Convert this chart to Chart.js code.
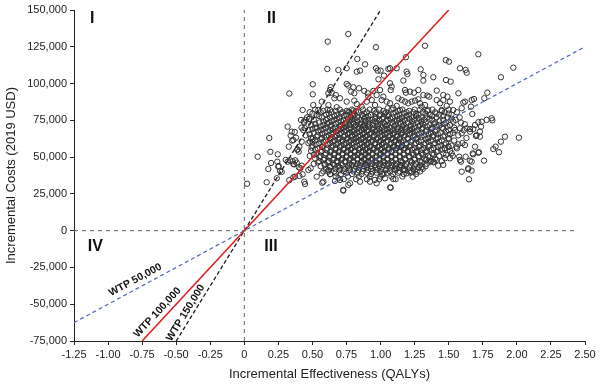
<!DOCTYPE html>
<html>
<head>
<meta charset="utf-8">
<script src="https://cdn.jsdelivr.net/npm/chart.js@4.4.1/dist/chart.umd.min.js"></script>
<style>
html,body{margin:0;padding:0;background:#fff;}
#wrap{width:600px;height:386px;position:relative;}
</style>
</head>
<body>
<div id="wrap"><canvas id="c" width="600" height="386"></canvas></div>
<script>
// ---- Data ----
const xTicks = [-1.25,-1.0,-0.75,-0.5,-0.25,0,0.25,0.5,0.75,1.0,1.25,1.5,1.75,2.0,2.25,2.5];
const yTicks = [-75000,-50000,-25000,0,25000,50000,75000,100000,125000,150000];
const wtpValues = [50000, 100000, 150000];
const wtpLabels = ['WTP 50,000', 'WTP 100,000', 'WTP 150,000'];
const wtpLineStart = [-1.25, -0.75, -0.5];
const wtpLineEnd = [2.5, 1.5, 1.0];
const quadrantLabels = ['I', 'II', 'III', 'IV'];

// Individually read simulation points [QALY, cost in thousands USD]
const sparsePoints = [
[0.02,31.9],[0.098,50.3],[0.183,63.0],[0.191,53.6],[0.164,32.9],[0.176,41.9],[0.196,46.0],[0.245,51.9],[0.242,46.9],[0.252,44.0],[0.274,39.9],[0.238,35.6],[0.33,93.2],[0.318,70.7],[0.34,64.6],[0.37,67.1],[0.326,57.1],[0.35,61.2],[0.379,63.2],[0.335,47.8],[0.355,47.2],[0.374,47.8],[0.36,45.3],[0.33,34.3],[0.372,36.7],[0.40,43.1],[0.39,54.9],
[0.262,40.6],[0.348,67.3],[0.36,61.6],[0.389,55.3],[0.399,53.7],[0.416,75.2],[0.436,74.1],[0.45,75.4],[0.475,75.9],[0.433,68.4],[0.445,69.6],[0.421,60.5],[0.404,57.1],[0.482,60.5],[0.502,62.3],[0.494,56.4],[0.304,48.1],[0.318,46.9],[0.365,45.1],[0.384,46.2],[0.411,42.4],[0.421,44.2],[0.36,36.3],[0.404,37.2],[0.428,38.3],[0.44,33.3],[0.445,31.7],[0.47,41.3],[0.487,42.4],[0.519,70.0],[0.249,43.5],
[0.502,99.5],[0.502,92.7],[0.506,85.4],[0.428,82.0],
[0.763,133.7],[0.612,128.5],[0.966,124.7],[0.829,116.7],[0.886,113.1],[0.609,109.9],[0.690,109.2],[0.751,110.4],[0.825,108.1],[0.849,108.8],[0.966,110.4],[0.979,108.8],[1.0,108.8],[1.057,109.9],[1.025,105.4],[0.984,102.9],[0.751,99.7],[0.763,98.6],[0.629,95.6],[0.641,93.8],[0.617,93.4],[0.671,92.2],[0.661,90.0],[0.702,90.0],[0.783,94.5],[0.807,93.4],[0.842,96.8],[0.880,95.0],[0.905,93.4],[0.91,91.1],[0.947,95.0],[0.971,92.2],[0.996,95.6],[1.02,91.1],[0.568,87.7],[0.617,85.4],[0.629,82.0],[0.678,83.9],[0.751,87.7],[0.807,88.4],[0.825,86.1],[0.861,84.3],[0.898,87.7],[0.935,88.8],[0.959,85.4],[1.008,88.8],[1.045,87.7],[1.052,83.2],[0.543,82.0],[0.763,80.9],[0.80,81.6],[0.634,97.5],[0.80,97.5],
[1.326,125.7],[1.186,117.9],[1.478,116.0],[1.502,114.9],[1.583,110.4],[1.069,110.4],[1.118,110.4],[1.191,108.1],[1.197,106.5],[1.294,109.7],[1.314,105.8],[1.167,102.0],[1.314,102.0],[1.387,104.3],[1.48,102.4],[1.514,101.3],[1.069,100.2],[1.081,97.9],[1.074,95.6],[1.179,95.6],[1.186,93.8],[1.216,94.5],[1.245,93.8],[1.277,95.6],[1.314,92.2],[1.343,91.8],[1.357,91.1],[1.412,95.2],[1.46,92.2],[1.49,91.1],[1.571,93.4],[1.13,90.0],[1.155,88.8],[1.179,87.7],[1.203,86.6],[1.228,87.7],[1.252,88.4],[1.277,89.3],[1.289,86.6],[1.302,84.3],[1.326,85.4],[1.35,82.0],[1.412,88.8],[1.436,86.6],[1.46,88.8],[1.485,84.8],[1.509,87.7],[1.448,82.0],[1.533,82.0],[1.069,86.6],[1.093,83.2],[1.118,84.8],[1.142,82.0],[1.595,83.2],[1.607,87.0],
[1.717,119.9],[1.974,110.8],[1.883,104.3],[1.624,109.2],[1.632,107.4],[1.783,93.8],[1.761,90.0],[1.668,88.8],[1.685,89.5],[1.619,87.7],[1.663,84.3],[1.673,79.3],
[1.815,76.4],[1.82,75.0],[1.778,75.3],[1.742,74.1],[1.717,73.7],[1.737,70.7],[1.693,71.8],[1.68,69.1],[1.656,69.1],[1.632,69.6],[1.619,72.3],[1.729,67.3],[1.70,64.4],[1.913,63.9],[1.883,60.5],[1.844,57.1],[1.827,55.5],[1.869,53.3],[2.015,63.2],[1.619,58.2],[1.722,53.3],[1.68,51.9],[1.759,47.6],[1.656,47.6],[1.668,46.9],[1.643,42.4],[1.649,34.9],
[1.656,67.3],[1.705,65.0],[1.729,63.9],[1.693,57.1],[1.676,52.6],[1.717,53.0],[1.624,50.3],[1.583,48.1],[1.643,41.7],[1.668,40.8],
[1.583,69.6],[1.595,66.2],[1.546,68.4],[1.533,74.1],[1.558,57.1],[1.571,58.7],[1.577,50.3],[1.59,46.9],[1.522,52.6],[1.509,49.2],[1.473,49.2],[1.46,44.7],[1.423,44.2],[1.473,56.0],[1.497,57.1],[1.595,40.1],[1.093,35.1],[1.074,29.2],[1.302,43.1],[1.265,40.1],[1.228,40.1],[1.236,36.7],[1.191,39.0],[1.167,41.3],[1.118,42.4],[1.142,44.7],[1.387,46.9],[1.362,46.9],[1.338,48.1],
[0.726,27.7],[0.776,32.2],[0.763,31.1],[0.849,33.3],[0.922,33.3],[0.971,32.2],[0.959,34.5],[1.032,35.6],[1.02,38.3],[0.69,35.6],[0.702,34.5],[0.665,33.8],[0.531,36.7],[0.568,39.0],[0.616,40.1],[0.629,38.3],[0.58,33.3],[0.572,32.6],[1.071,29.5],[0.726,27.2]
];

// Dense core, read row by row: [cost in thousands, QALY values...]
const coreRows = [
[82.3, 0.52,0.61,0.70,0.79,0.87,0.92,0.99,1.08,1.16,1.25,1.29,1.38,1.50],
[81.4, 0.58,0.67,0.75,0.82,0.95,1.02,1.13,1.21,1.34,1.45],
[80.5, 0.48,0.56,0.64,0.72,0.77,0.84,0.90,0.97,1.04,1.11,1.19,1.24,1.31,1.40,1.47,1.56],
[79.6, 0.50,0.62,0.71,0.79,0.88,0.96,1.03,1.09,1.17,1.26,1.33,1.41,1.50],
[78.8, 0.53,0.60,0.68,0.75,0.81,0.86,0.93,1.00,1.06,1.14,1.21,1.28,1.36,1.43,1.52],
[77.9, 0.55,0.66,0.73,0.80,0.87,0.91,0.99,1.05,1.12,1.19,1.26,1.38,1.46],
[77.0, 0.46,0.57,0.63,0.70,0.78,0.83,0.89,0.96,1.02,1.09,1.16,1.23,1.30,1.34,1.41,1.49,1.58],
[76.1, 0.48,0.61,0.68,0.76,0.81,0.88,0.96,1.01,1.07,1.14,1.21,1.28,1.36,1.52],
[75.3, 0.51,0.60,0.66,0.73,0.79,0.85,0.91,0.94,0.99,1.05,1.12,1.18,1.25,1.32,1.38,1.46,1.55],
[74.4, 0.58,0.64,0.71,0.77,0.83,0.89,0.96,1.04,1.10,1.16,1.23,1.30,1.43],
[73.5, 0.44,0.55,0.62,0.69,0.75,0.80,0.86,0.92,0.97,1.02,1.08,1.14,1.20,1.27,1.33,1.40,1.48,1.59],
[72.6, 0.52,0.61,0.67,0.74,0.80,0.85,0.91,0.98,1.03,1.09,1.15,1.24,1.31,1.39,1.47],
[71.8, 0.49,0.58,0.64,0.71,0.77,0.82,0.88,0.94,1.00,1.05,1.11,1.17,1.22,1.29,1.36,1.43,1.51],
[70.9, 0.56,0.63,0.70,0.75,0.81,0.87,0.92,0.98,1.04,1.10,1.16,1.22,1.28,1.34,1.41,1.49],
[70.0, 0.42,0.53,0.60,0.67,0.73,0.78,0.84,0.89,0.95,1.01,1.07,1.13,1.19,1.25,1.31,1.38,1.45,1.54],
[69.1, 0.50,0.58,0.65,0.71,0.77,0.83,0.88,0.94,0.99,1.05,1.12,1.18,1.23,1.30,1.37,1.46],
[68.3, 0.47,0.56,0.63,0.69,0.75,0.81,0.86,0.91,0.97,1.03,1.09,1.15,1.21,1.27,1.34,1.41,1.50,1.61],
[67.4, 0.54,0.61,0.67,0.73,0.79,0.84,0.90,0.96,1.01,1.07,1.13,1.19,1.25,1.33,1.40,1.48],
[66.5, 0.51,0.59,0.65,0.71,0.77,0.83,0.88,0.93,0.99,1.05,1.10,1.16,1.23,1.30,1.37,1.44,1.53],
[65.6, 0.48,0.57,0.64,0.70,0.76,0.81,0.87,0.92,0.97,1.03,1.09,1.15,1.21,1.28,1.35,1.42,1.51],
[64.8, 0.45,0.54,0.62,0.68,0.74,0.79,0.85,0.90,0.95,1.01,1.07,1.12,1.18,1.25,1.32,1.39,1.47,1.57],
[63.9, 0.53,0.60,0.66,0.73,0.79,0.84,0.89,0.95,1.00,1.06,1.12,1.17,1.24,1.30,1.38,1.46],
[63.0, 0.49,0.57,0.64,0.70,0.76,0.82,0.87,0.92,0.98,1.03,1.09,1.14,1.20,1.27,1.35,1.42,1.50,1.63],
[62.1, 0.56,0.63,0.69,0.75,0.80,0.86,0.91,0.97,1.02,1.08,1.14,1.20,1.26,1.33,1.41,1.50],
[61.3, 0.52,0.60,0.66,0.72,0.78,0.84,0.89,0.94,1.00,1.05,1.11,1.17,1.23,1.30,1.37,1.45,1.54],
[60.4, 0.50,0.58,0.65,0.71,0.77,0.82,0.88,0.93,0.99,1.04,1.10,1.15,1.22,1.28,1.35,1.43],
[59.5, 0.47,0.55,0.63,0.69,0.75,0.80,0.86,0.91,0.96,1.02,1.08,1.13,1.19,1.26,1.33,1.40,1.48,1.60],
[58.6, 0.53,0.61,0.67,0.73,0.79,0.85,0.90,0.96,1.01,1.07,1.13,1.19,1.25,1.32,1.39,1.47],
[57.8, 0.50,0.58,0.65,0.71,0.77,0.83,0.88,0.93,0.99,1.04,1.10,1.16,1.22,1.29,1.36,1.44,1.52],
[56.9, 0.57,0.64,0.70,0.76,0.81,0.87,0.92,0.98,1.03,1.09,1.15,1.21,1.28,1.35,1.42,1.50],
[56.0, 0.54,0.61,0.67,0.73,0.79,0.85,0.90,0.95,1.01,1.06,1.12,1.18,1.25,1.32,1.39,1.47,1.56],
[55.1, 0.52,0.60,0.67,0.73,0.78,0.84,0.89,0.95,1.00,1.06,1.11,1.17,1.23,1.30,1.37,1.45],
[54.3, 0.49,0.57,0.64,0.70,0.76,0.81,0.87,0.92,0.97,1.03,1.08,1.14,1.20,1.27,1.34,1.42,1.51],
[53.4, 0.56,0.63,0.69,0.75,0.81,0.86,0.91,0.97,1.02,1.08,1.14,1.20,1.26,1.33,1.41],
[52.5, 0.53,0.60,0.66,0.72,0.78,0.84,0.89,0.94,1.00,1.05,1.11,1.17,1.23,1.30,1.38,1.46],
[51.6, 0.51,0.59,0.66,0.72,0.78,0.83,0.89,0.94,1.00,1.05,1.11,1.17,1.24,1.31,1.39,1.48],
[50.8, 0.48,0.56,0.63,0.69,0.75,0.81,0.86,0.91,0.97,1.02,1.08,1.14,1.21,1.28,1.35,1.43,1.53],
[49.9, 0.55,0.62,0.69,0.75,0.80,0.86,0.91,0.96,1.02,1.08,1.14,1.21,1.28,1.36],
[49.0, 0.52,0.59,0.66,0.72,0.78,0.83,0.88,0.94,0.99,1.05,1.11,1.18,1.25,1.32,1.40],
[48.1, 0.58,0.65,0.71,0.77,0.83,0.88,0.93,0.99,1.05,1.11,1.18,1.25,1.33,1.41],
[47.3, 0.55,0.62,0.68,0.74,0.80,0.86,0.91,0.96,1.02,1.08,1.15,1.22,1.29,1.37,1.45],
[46.4, 0.54,0.61,0.68,0.74,0.80,0.86,0.91,0.97,1.03,1.09,1.16,1.23,1.30,1.39],
[45.5, 0.51,0.59,0.65,0.71,0.77,0.83,0.89,0.94,1.00,1.06,1.12,1.19,1.26,1.34],
[44.6, 0.59,0.66,0.72,0.79,0.85,0.90,0.96,1.02,1.08,1.15,1.22,1.29],
[43.8, 0.56,0.63,0.69,0.76,0.82,0.88,0.93,0.99,1.05,1.11,1.18,1.25,1.33],
[42.9, 0.63,0.70,0.77,0.84,0.90,0.96,1.01,1.07,1.14,1.21,1.28],
[42.0, 0.60,0.67,0.74,0.81,0.87,0.93,0.98,1.04,1.10,1.17,1.24,1.31],
[41.1, 0.62,0.70,0.77,0.84,0.91,0.97,1.04,1.11,1.18,1.25],
[40.3, 0.58,0.66,0.73,0.80,0.87,0.94,1.00,1.07,1.14,1.21,1.29],
[39.4, 0.67,0.75,0.83,0.90,0.97,1.05,1.13,1.22],
[38.5, 0.63,0.71,0.79,0.86,0.93,1.01,1.09,1.17,1.26],
[36.8, 0.67,0.76,0.84,0.92,1.00,1.08,1.16],
[35.0, 0.73,0.82,0.90,0.99,1.11]
];

// ---- Build datasets ----
const simPoints = [];
sparsePoints.forEach(p => simPoints.push({x: p[0], y: p[1] * 1000}));
coreRows.forEach(r => { for (let i = 1; i < r.length; i++) simPoints.push({x: r[i], y: r[0] * 1000}); });

const lineStyles = [
  {color: '#4a67b0', dash: [4, 3], width: 1.2},
  {color: '#e32222', dash: [], width: 1.6},
  {color: '#1a1a1a', dash: [4, 2.5], width: 1.3}
];

const datasets = [];
wtpValues.forEach((w, i) => {
  datasets.push({
    type: 'line',
    label: wtpLabels[i],
    data: [{x: wtpLineStart[i], y: w * wtpLineStart[i]}, {x: wtpLineEnd[i], y: w * wtpLineEnd[i]}],
    borderColor: lineStyles[i].color,
    borderDash: lineStyles[i].dash,
    borderWidth: lineStyles[i].width,
    pointRadius: 0,
    fill: false,
    order: 1
  });
});
datasets.push({
  type: 'line', label: 'v0',
  data: [{x: 0, y: yTicks[0]}, {x: 0, y: yTicks[yTicks.length - 1]}],
  borderColor: '#666', borderDash: [4, 4], borderWidth: 1, pointRadius: 0, order: 2
});
datasets.push({
  type: 'line', label: 'h0',
  data: [{x: xTicks[0], y: 0}, {x: 2.43, y: 0}],
  borderColor: '#666', borderDash: [4, 4], borderWidth: 1, pointRadius: 0, order: 2
});
datasets.push({
  type: 'scatter', label: 'PSA',
  data: simPoints,
  pointRadius: 2.7,
  pointBorderWidth: 1,
  pointBorderColor: '#333',
  pointBackgroundColor: 'rgba(255,255,255,0)',
  showLine: false,
  order: 3
});

const FONT = "'Liberation Sans', Arial, sans-serif";

const textPlugin = {
  id: 'textPlugin',
  afterDatasetsDraw(chart) {
    const ctx = chart.ctx;
    const xs = chart.scales.x, ys = chart.scales.y;
    ctx.save();
    ctx.fillStyle = '#111';
    ctx.font = 'bold 16px ' + FONT;
    ctx.textAlign = 'center';
    ctx.textBaseline = 'middle';
    const qPos = [[-1.117, 144200], [0.199, 144200], [0.196, -10900], [-1.093, -10900]];
    quadrantLabels.forEach((t, i) => {
      ctx.fillText(t, xs.getPixelForValue(qPos[i][0]), ys.getPixelForValue(qPos[i][1]));
    });
    const lPos = [[-0.80, -33500], [-0.637, -55600], [-0.431, -55900]];
    ctx.font = 'bold 10.5px ' + FONT;
    wtpValues.forEach((w, i) => {
      const x0 = xs.getPixelForValue(-0.5), y0 = ys.getPixelForValue(-0.5 * w);
      const x1 = xs.getPixelForValue(0), y1 = ys.getPixelForValue(0);
      const ang = Math.atan2(y1 - y0, x1 - x0);
      ctx.save();
      ctx.translate(xs.getPixelForValue(lPos[i][0]), ys.getPixelForValue(lPos[i][1]));
      ctx.rotate(ang);
      ctx.fillText(wtpLabels[i], 0, 0);
      ctx.restore();
    });
    ctx.restore();
  }
};

new Chart(document.getElementById('c'), {
  type: 'scatter',
  data: {datasets},
  plugins: [textPlugin],
  options: {
    responsive: false,
    animation: false,
    events: [],
    layout: {padding: {left: 0, right: 15, top: 10, bottom: 0}},
    plugins: {legend: {display: false}, tooltip: {enabled: false}},
    scales: {
      x: {
        type: 'linear',
        min: xTicks[0], max: xTicks[xTicks.length - 1],
        afterBuildTicks(scale) { scale.ticks = xTicks.map(v => ({value: v})); },
        afterFit(scale) { scale.height = 45; },
        ticks: {
          callback: v => (v === 0 ? '0' : v.toFixed(2)),
          font: {family: FONT, size: 11}, color: '#222', padding: 3, maxRotation: 0
        },
        grid: {display: true, drawOnChartArea: false, drawTicks: true, tickLength: 4, color: '#222'},
        border: {color: '#222', width: 1},
        title: {display: true, text: 'Incremental Effectiveness (QALYs)', font: {family: FONT, size: 13}, color: '#222', padding: {top: 6}}
      },
      y: {
        type: 'linear',
        min: yTicks[0], max: yTicks[yTicks.length - 1],
        afterBuildTicks(scale) { scale.ticks = yTicks.map(v => ({value: v})); },
        afterFit(scale) { scale.width = 74; },
        ticks: {
          callback: v => v.toLocaleString('en-US'),
          font: {family: FONT, size: 11}, color: '#222', padding: 3
        },
        grid: {display: true, drawOnChartArea: false, drawTicks: true, tickLength: 4, color: '#222'},
        border: {color: '#222', width: 1},
        title: {display: true, text: 'Incremental Costs (2019 USD)', font: {family: FONT, size: 13}, color: '#222', padding: {bottom: 2}}
      }
    }
  }
});
</script>
</body>
</html>
